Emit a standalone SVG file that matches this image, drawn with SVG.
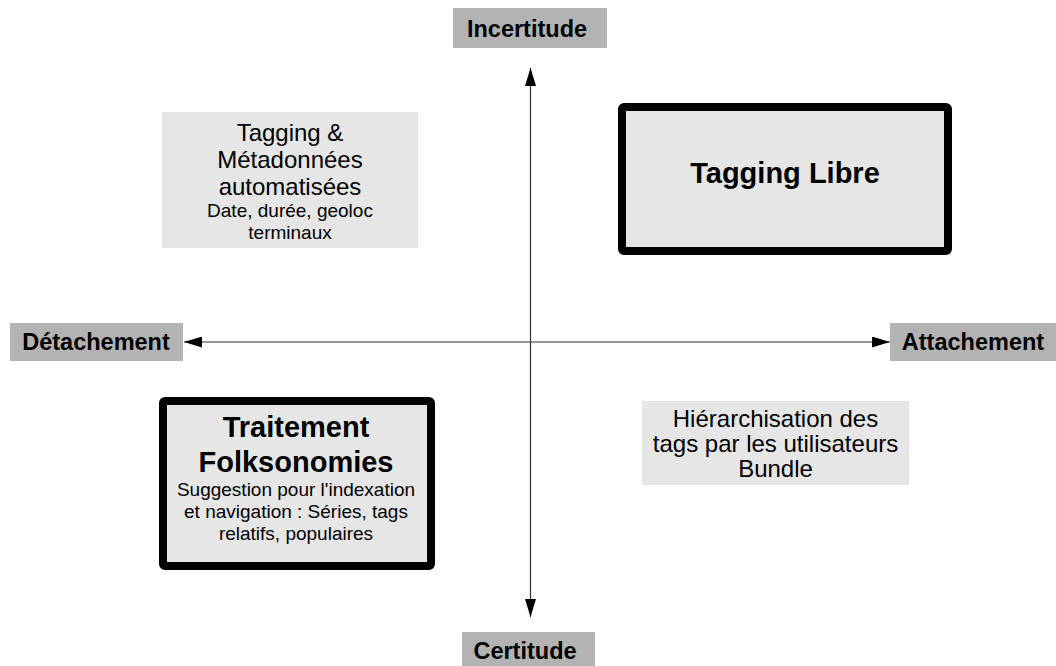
<svg xmlns="http://www.w3.org/2000/svg" width="1056" height="666" viewBox="0 0 1056 666">
<defs>
<style>
.axis{fill:#b3b3b3}
.axt{font-family:"Liberation Sans",Arial,sans-serif;font-weight:bold;font-size:23.5px;fill:#000;text-anchor:middle}
.box{fill:#e6e6e6}
.bold{fill:#e6e6e6;stroke:#000;stroke-width:8;stroke-linejoin:round}
.t{font-family:"Liberation Sans",Arial,sans-serif;fill:#000;text-anchor:middle}
.big{font-size:24px}
.sm{font-size:19px}
.ti{font-size:29px;font-weight:bold}
.ln{stroke:#333;stroke-width:1.2;fill:none}
</style>
<marker id="ah" viewBox="0 0 18 11" refX="18" refY="5.5" markerWidth="18" markerHeight="11" markerUnits="userSpaceOnUse" orient="auto">
<path d="M0,0 L18,5.5 L0,11 Z" fill="#000"/>
</marker>
</defs>
<rect width="1056" height="666" fill="#fff"/>
<g id="connectors">
<line class="ln" x1="530.5" y1="342" x2="530.5" y2="68" marker-end="url(#ah)"/>
<line class="ln" x1="530.5" y1="342" x2="530.5" y2="617" marker-end="url(#ah)"/>
<line class="ln" x1="530.5" y1="342" x2="184" y2="342" marker-end="url(#ah)"/>
<line class="ln" x1="530.5" y1="342" x2="890" y2="342" marker-end="url(#ah)"/>
</g>
<g id="incertitude">
<rect class="axis" x="453" y="8" width="154" height="40"/>
<text class="axt" x="527" y="37">Incertitude</text>
</g>
<g id="certitude">
<rect class="axis" x="462" y="632" width="133" height="40"/>
<text class="axt" x="525" y="659">Certitude</text>
</g>
<g id="detachement">
<rect class="axis" x="10" y="323" width="173" height="38"/>
<text class="axt" x="96" y="350">Détachement</text>
</g>
<g id="attachement">
<rect class="axis" x="890" y="323" width="170" height="38"/>
<text class="axt" x="973" y="350">Attachement</text>
</g>
<g id="tagging-metadonnees">
<rect class="box" x="162" y="112" width="256" height="136"/>
<text class="t big" x="290" y="141">Tagging &amp;</text>
<text class="t big" x="290" y="168">Métadonnées</text>
<text class="t big" x="290" y="195">automatisées</text>
<text class="t sm" x="290" y="217">Date, durée, geoloc</text>
<text class="t sm" x="290" y="239">terminaux</text>
</g>
<g id="tagging-libre">
<rect class="bold" x="622" y="107" width="326" height="144" rx="2"/>
<text class="t ti" x="785" y="183">Tagging Libre</text>
</g>
<g id="traitement-folksonomies">
<rect class="bold" x="163" y="401" width="268" height="165" rx="2"/>
<text class="t ti" x="296" y="437">Traitement</text>
<text class="t ti" x="296" y="472">Folksonomies</text>
<text class="t sm" x="296" y="496">Suggestion pour l'indexation</text>
<text class="t sm" x="296" y="518">et navigation : Séries, tags</text>
<text class="t sm" x="296" y="540">relatifs, populaires</text>
</g>
<g id="hierarchisation">
<rect class="box" x="642" y="401" width="267" height="84"/>
<text class="t big" x="775.5" y="427">Hiérarchisation des</text>
<text class="t big" x="775.5" y="452">tags par les utilisateurs</text>
<text class="t big" x="775.5" y="477">Bundle</text>
</g>
</svg>
